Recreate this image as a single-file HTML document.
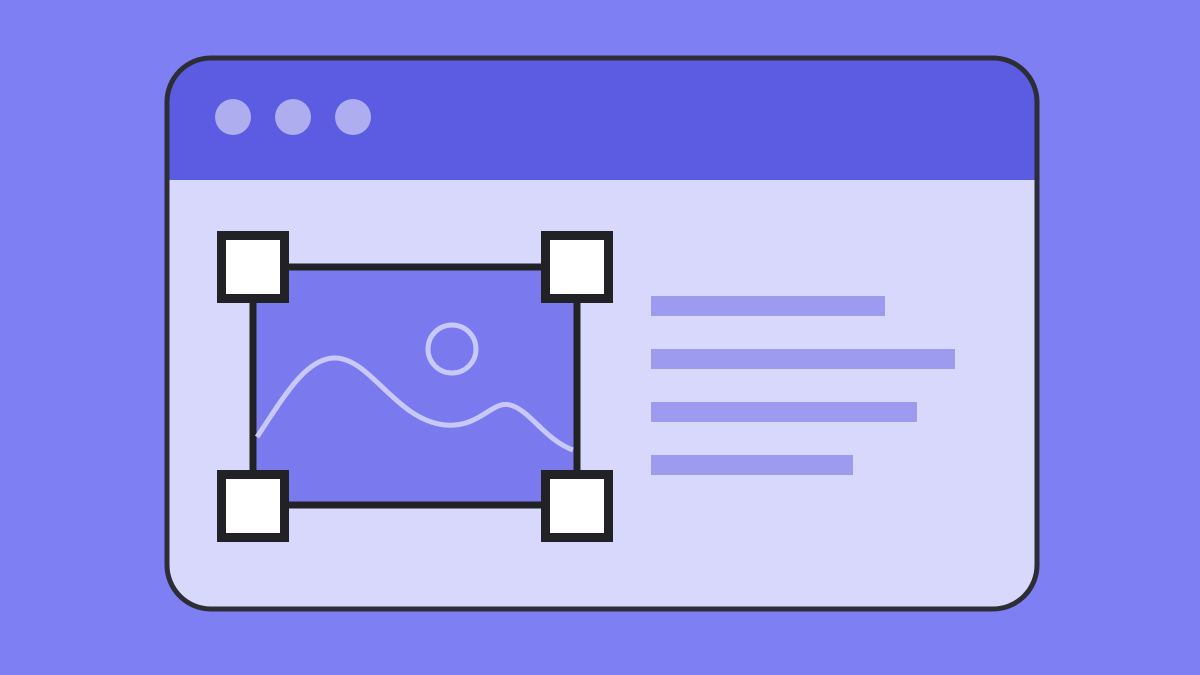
<!DOCTYPE html>
<html><head><meta charset="utf-8"><style>
html,body{margin:0;padding:0;width:1200px;height:675px;overflow:hidden;background:#7f7ff4;}
</style></head><body>
<svg width="1200" height="675" viewBox="0 0 1200 675" xmlns="http://www.w3.org/2000/svg">
<defs><clipPath id="win"><rect x="167" y="58" width="870" height="551" rx="44"/></clipPath></defs>
<rect x="0" y="0" width="1200" height="675" fill="#7f7ff4"/>
<g clip-path="url(#win)">
<rect x="160" y="50" width="890" height="570" fill="#d8d8fd"/>
<rect x="160" y="50" width="890" height="130" fill="#5b5ce2"/>
</g>
<rect x="167" y="58" width="870" height="551" rx="44" fill="none" stroke="#2d2d35" stroke-width="5"/>
<circle cx="233" cy="117" r="18" fill="#adadf0"/>
<circle cx="293" cy="117" r="18" fill="#adadf0"/>
<circle cx="353" cy="117" r="18" fill="#adadf0"/>
<rect x="253" y="267" width="324" height="238" fill="#7a7aee" stroke="#222226" stroke-width="7"/>
<circle cx="452" cy="349" r="24" fill="none" stroke="#c8c8fb" stroke-width="5"/>
<path d="M257 437 C285 395 305 360 333 358 C370 356 395 420 445 425 C480 428 492 400 510 405 C530 410 545 440 573 450" fill="none" stroke="#c8c8fb" stroke-width="5"/>
<g fill="#fff" stroke="#222226" stroke-width="9">
<rect x="221.5" y="235.5" width="63" height="63"/>
<rect x="545.5" y="235.5" width="63" height="63"/>
<rect x="221.5" y="474.5" width="63" height="63"/>
<rect x="545.5" y="474.5" width="63" height="63"/>
</g>
<g fill="#9d9bef">
<rect x="651" y="296" width="234" height="20"/>
<rect x="651" y="349" width="304" height="20"/>
<rect x="651" y="402" width="266" height="20"/>
<rect x="651" y="455" width="202" height="20"/>
</g>
</svg>
</body></html>
